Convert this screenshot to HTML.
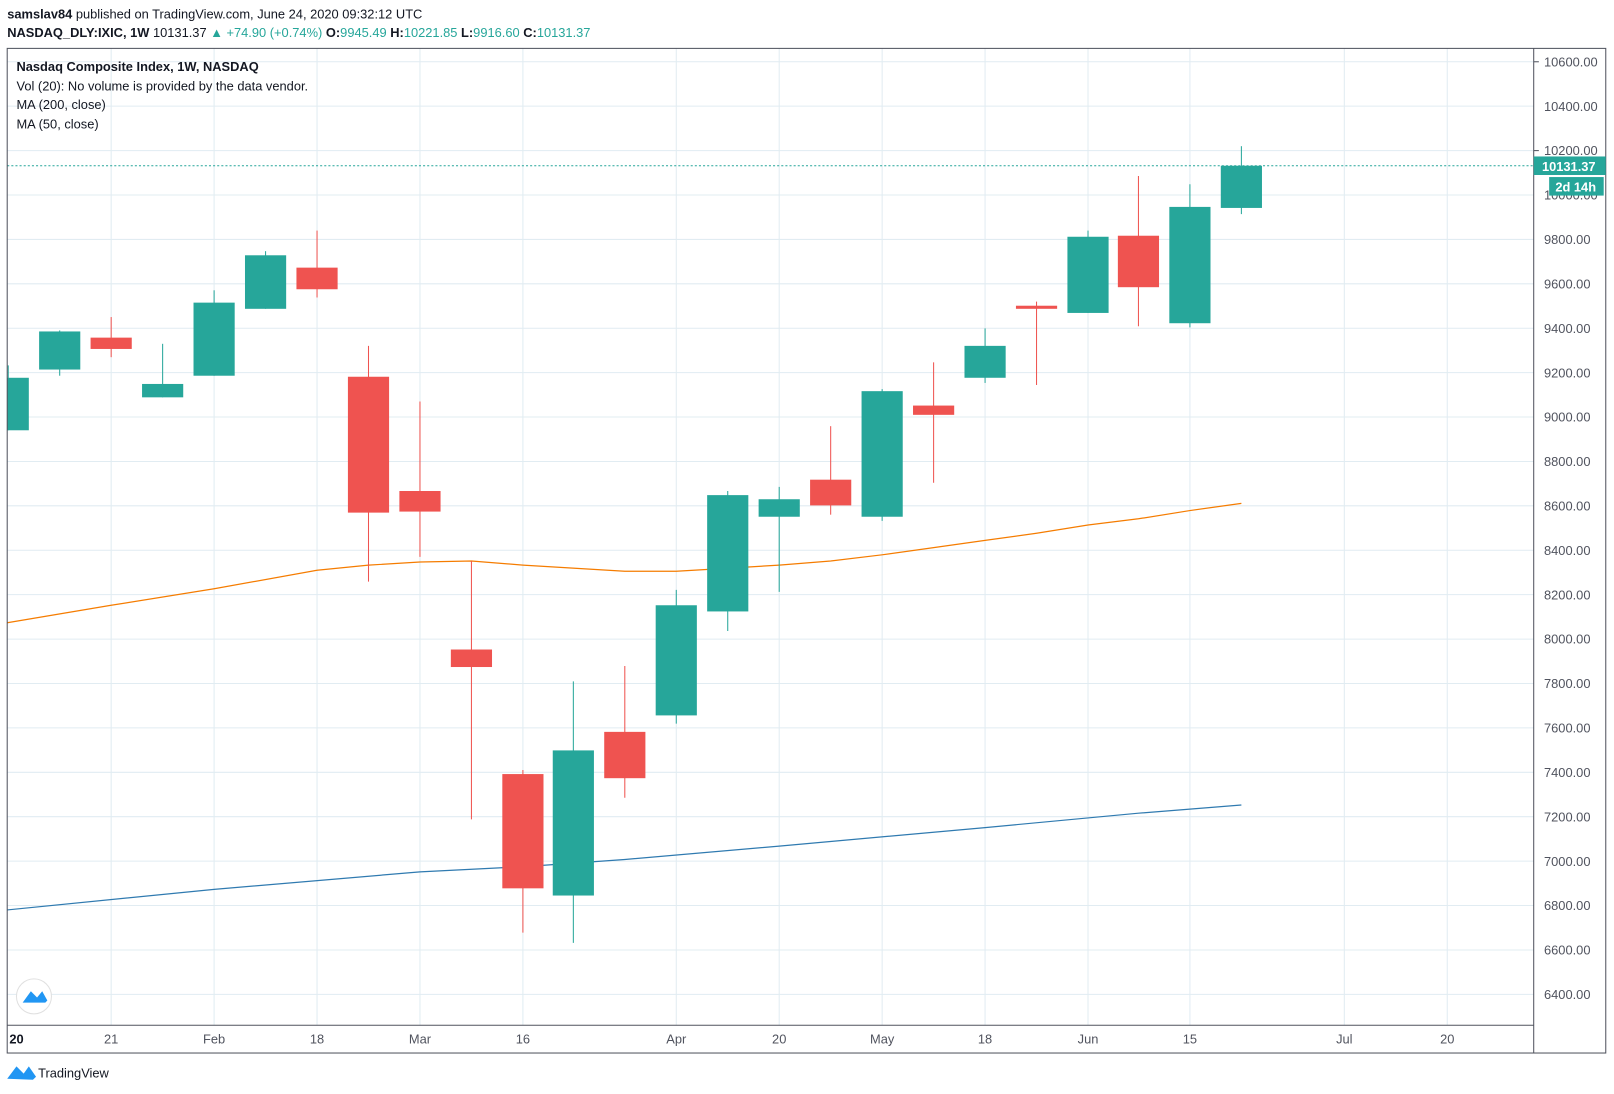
<!DOCTYPE html>
<html><head><meta charset="utf-8"><style>
html,body{margin:0;padding:0;background:#fff;}
svg{display:block;font-family:"Liberation Sans",sans-serif;}
</style></head><body>
<svg width="1614" height="1094" viewBox="0 0 1568 1062.8" xmlns="http://www.w3.org/2000/svg">
<rect width="1568" height="1063" fill="#fff"/>
<text x="7" y="18" font-size="12.5" fill="#131722"><tspan font-weight="bold">samslav84</tspan> published on TradingView.com, June 24, 2020 09:32:12 UTC</text>
<text x="7" y="36" font-size="12.5" fill="#131722"><tspan font-weight="bold">NASDAQ_DLY:IXIC, 1W</tspan>  10131.37 <tspan fill="#26a69a">▲ +74.90 (+0.74%)</tspan> <tspan font-weight="bold">O:</tspan><tspan fill="#26a69a">9945.49</tspan> <tspan font-weight="bold">H:</tspan><tspan fill="#26a69a">10221.85</tspan> <tspan font-weight="bold">L:</tspan><tspan fill="#26a69a">9916.60</tspan> <tspan font-weight="bold">C:</tspan><tspan fill="#26a69a">10131.37</tspan></text>
<g stroke="#e1ecf2" stroke-width="1">
<line x1="108" y1="47" x2="108" y2="996"/><line x1="208" y1="47" x2="208" y2="996"/><line x1="308" y1="47" x2="308" y2="996"/><line x1="408" y1="47" x2="408" y2="996"/><line x1="508" y1="47" x2="508" y2="996"/><line x1="657" y1="47" x2="657" y2="996"/><line x1="757" y1="47" x2="757" y2="996"/><line x1="857" y1="47" x2="857" y2="996"/><line x1="957" y1="47" x2="957" y2="996"/><line x1="1057" y1="47" x2="1057" y2="996"/><line x1="1156" y1="47" x2="1156" y2="996"/><line x1="1306" y1="47" x2="1306" y2="996"/><line x1="1406" y1="47" x2="1406" y2="996"/>
<line x1="7" y1="60" x2="1490" y2="60"/><line x1="7" y1="103.1" x2="1490" y2="103.1"/><line x1="7" y1="146.3" x2="1490" y2="146.3"/><line x1="7" y1="189.4" x2="1490" y2="189.4"/><line x1="7" y1="232.6" x2="1490" y2="232.6"/><line x1="7" y1="275.7" x2="1490" y2="275.7"/><line x1="7" y1="318.9" x2="1490" y2="318.9"/><line x1="7" y1="362" x2="1490" y2="362"/><line x1="7" y1="405.1" x2="1490" y2="405.1"/><line x1="7" y1="448.3" x2="1490" y2="448.3"/><line x1="7" y1="491.4" x2="1490" y2="491.4"/><line x1="7" y1="534.6" x2="1490" y2="534.6"/><line x1="7" y1="577.7" x2="1490" y2="577.7"/><line x1="7" y1="620.9" x2="1490" y2="620.9"/><line x1="7" y1="664" x2="1490" y2="664"/><line x1="7" y1="707.1" x2="1490" y2="707.1"/><line x1="7" y1="750.3" x2="1490" y2="750.3"/><line x1="7" y1="793.4" x2="1490" y2="793.4"/><line x1="7" y1="836.6" x2="1490" y2="836.6"/><line x1="7" y1="879.7" x2="1490" y2="879.7"/><line x1="7" y1="922.9" x2="1490" y2="922.9"/><line x1="7" y1="966" x2="1490" y2="966"/>
</g>
<g font-size="12.5" fill="#131722">
<text x="16" y="69" font-weight="bold">Nasdaq Composite Index, 1W, NASDAQ</text>
<text x="16" y="88">Vol (20): No volume is provided by the data vendor.</text>
<text x="16" y="106">MA (200, close)</text>
<text x="16" y="125">MA (50, close)</text>
</g>
<polyline fill="none" stroke="#2f7ab0" stroke-width="1.2" points="7,884 208,864 408,847 508,842 607,835 757,822 957,804 1106,790 1206,782"/>
<polyline fill="none" stroke="#f57c00" stroke-width="1.2" points="7,605 108,588 208,572 308,554 358,549 408,546 458,545 508,549 607,555 657,555 707,552 757,549 807,545 857,539 907,532 957,525 1007,518 1057,510 1106,504 1156,496 1206,489"/>
<line x1="7" y1="161" x2="1490" y2="161" stroke="#26a69a" stroke-dasharray="2,2"/>
<g stroke-width="1">
<svg x="7" y="0" width="1483" height="1000" overflow="hidden"><g transform="translate(-7,0)">
<line x1="8" y1="355" x2="8" y2="418" stroke="#26a69a"/><rect x="-12" y="367" width="40" height="51" fill="#26a69a"/>
</g></svg>
<g stroke="#26a69a" fill="#26a69a">
<line x1="58" y1="321" x2="58" y2="365"/><rect x="38" y="322" width="40" height="37" stroke="none"/>
<line x1="158" y1="334" x2="158" y2="386"/><rect x="138" y="373" width="40" height="13" stroke="none"/>
<line x1="208" y1="282" x2="208" y2="365"/><rect x="188" y="294" width="40" height="71" stroke="none"/>
<line x1="258" y1="244" x2="258" y2="300"/><rect x="238" y="248" width="40" height="52" stroke="none"/>
<line x1="557" y1="662" x2="557" y2="916"/><rect x="537" y="729" width="40" height="141" stroke="none"/>
<line x1="657" y1="573" x2="657" y2="703"/><rect x="637" y="588" width="40" height="107" stroke="none"/>
<line x1="707" y1="477" x2="707" y2="613"/><rect x="687" y="481" width="40" height="113" stroke="none"/>
<line x1="757" y1="473" x2="757" y2="575"/><rect x="737" y="485" width="40" height="17" stroke="none"/>
<line x1="857" y1="378" x2="857" y2="506"/><rect x="837" y="380" width="40" height="122" stroke="none"/>
<line x1="957" y1="319" x2="957" y2="372"/><rect x="937" y="336" width="40" height="31" stroke="none"/>
<line x1="1057" y1="224" x2="1057" y2="304"/><rect x="1037" y="230" width="40" height="74" stroke="none"/>
<line x1="1156" y1="179" x2="1156" y2="318"/><rect x="1136" y="201" width="40" height="113" stroke="none"/>
<line x1="1206" y1="142" x2="1206" y2="208"/><rect x="1186" y="161" width="40" height="41" stroke="none"/>
</g>
<g stroke="#ef5350" fill="#ef5350">
<line x1="108" y1="308" x2="108" y2="347"/><rect x="88" y="328" width="40" height="11" stroke="none"/>
<line x1="308" y1="224" x2="308" y2="289"/><rect x="288" y="260" width="40" height="21" stroke="none"/>
<line x1="358" y1="336" x2="358" y2="565"/><rect x="338" y="366" width="40" height="132" stroke="none"/>
<line x1="408" y1="390" x2="408" y2="541"/><rect x="388" y="477" width="40" height="20" stroke="none"/>
<line x1="458" y1="545" x2="458" y2="796"/><rect x="438" y="631" width="40" height="17" stroke="none"/>
<line x1="508" y1="748" x2="508" y2="906"/><rect x="488" y="752" width="40" height="111" stroke="none"/>
<line x1="607" y1="647" x2="607" y2="775"/><rect x="587" y="711" width="40" height="45" stroke="none"/>
<line x1="807" y1="414" x2="807" y2="500"/><rect x="787" y="466" width="40" height="25" stroke="none"/>
<line x1="907" y1="352" x2="907" y2="469"/><rect x="887" y="394" width="40" height="9" stroke="none"/>
<line x1="1007" y1="293" x2="1007" y2="374"/><rect x="987" y="297" width="40" height="3" stroke="none"/>
<line x1="1106" y1="171" x2="1106" y2="317"/><rect x="1086" y="229" width="40" height="50" stroke="none"/>
</g>
</g>
<rect x="7" y="47" width="1553" height="976" fill="none" stroke="#50535e" stroke-width="1"/>
<line x1="1490" y1="47" x2="1490" y2="1023" stroke="#50535e"/>
<line x1="7" y1="996" x2="1490" y2="996" stroke="#50535e"/>
<g font-size="12.5" fill="#50535e">
<text x="1500" y="64.5">10600.00</text><text x="1500" y="107.6">10400.00</text><text x="1500" y="150.8">10200.00</text><text x="1500" y="193.9">10000.00</text><text x="1500" y="237.1">9800.00</text><text x="1500" y="280.2">9600.00</text><text x="1500" y="323.4">9400.00</text><text x="1500" y="366.5">9200.00</text><text x="1500" y="409.6">9000.00</text><text x="1500" y="452.8">8800.00</text><text x="1500" y="495.9">8600.00</text><text x="1500" y="539.1">8400.00</text><text x="1500" y="582.2">8200.00</text><text x="1500" y="625.4">8000.00</text><text x="1500" y="668.5">7800.00</text><text x="1500" y="711.6">7600.00</text><text x="1500" y="754.8">7400.00</text><text x="1500" y="797.9">7200.00</text><text x="1500" y="841.1">7000.00</text><text x="1500" y="884.2">6800.00</text><text x="1500" y="927.4">6600.00</text><text x="1500" y="970.5">6400.00</text>
</g>
<g stroke="#50535e"><line x1="1490" y1="60" x2="1495" y2="60"/><line x1="1490" y1="146.3" x2="1495" y2="146.3"/></g>
<rect x="1490" y="152" width="70" height="18" fill="#26a69a"/>
<text x="1498" y="166" font-size="12.5" font-weight="bold" fill="#fff">10131.37</text>
<rect x="1505" y="172" width="53" height="18" fill="#26a69a"/>
<text x="1511" y="186" font-size="12.5" font-weight="bold" fill="#fff">2d 14h</text>
<g font-size="12.5" fill="#50535e" text-anchor="middle">
<text x="16" y="1014" font-weight="bold" fill="#131722">20</text><text x="108" y="1014">21</text><text x="208" y="1014">Feb</text><text x="308" y="1014">18</text><text x="408" y="1014">Mar</text><text x="508" y="1014">16</text><text x="657" y="1014">Apr</text><text x="757" y="1014">20</text><text x="857" y="1014">May</text><text x="957" y="1014">18</text><text x="1057" y="1014">Jun</text><text x="1156" y="1014">15</text><text x="1306" y="1014">Jul</text><text x="1406" y="1014">20</text>
</g>
<circle cx="33" cy="968" r="17" fill="#fff" stroke="#e0e0e0"/>
<path d="M22,974 L30,963 L36,969 L41,963 L46,972 L44,974 Z" fill="#2196f3"/>
<path d="M7,1048 L16,1036 L23,1043 L28,1036 L35,1046 L32,1049 Z" fill="#2196f3"/>
<text x="37" y="1047" font-size="12.5" fill="#131722">TradingView</text>
</svg>
</body></html>
